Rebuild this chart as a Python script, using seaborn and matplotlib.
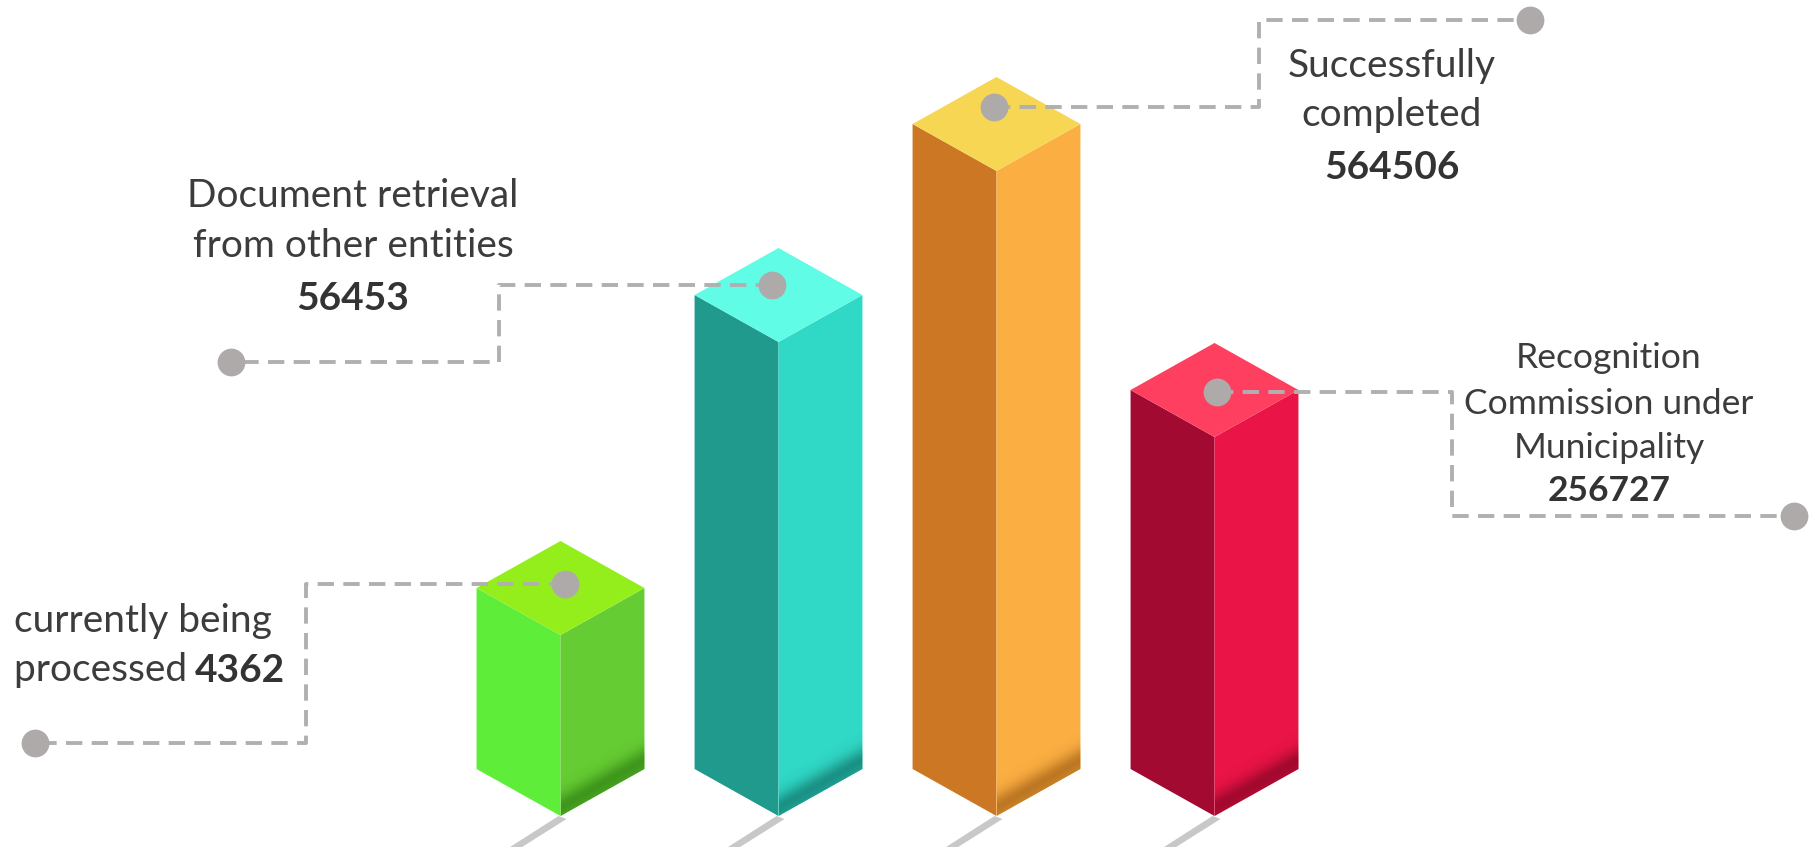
import matplotlib
matplotlib.use("Agg")
import matplotlib.pyplot as plt
import seaborn as sns
import numpy as np
from matplotlib.patches import Polygon
from matplotlib.colors import to_rgb

# data
categories = ["currently being processed", "Document retrieval from other entities",
              "Successfully completed", "Recognition Commission under Municipality"]
counts = [4362, 56453, 564506, 256727]
# the infographic does not scale bars by count; front-edge heights (px)
drawn_height = [181, 474, 645, 379]
label_lines = [["currently being", "processed "],
               ["Document retrieval", "from other entities"],
               ["Successfully", "completed"],
               ["Recognition", "Commission under", "Municipality"]]
left_colors = ["#5EEE3A", "#1F9A8C", "#CC7724", "#A20A32"]
right_colors = ["#66CC33", "#30D8C6", "#FBAE42", "#EA1446"]
top_colors = ["#94EE1C", "#60FCE6", "#F6D652", "#FF3F5F"]
shade_colors = ["#1E6A08", "#08564E", "#8A4A08", "#66001A"]

W, H = 1811, 847
STEP = 218.0      # px between bar centres
X0 = 560.5        # px of first bar centre
BASE = 816.0      # px of front bottom corner
D = 47.0          # half height of the top diamond


def to_data(px, py):
    return (px - X0) / STEP, BASE - py


sns.set_theme(style="white")
plt.rcParams['font.family'] = ['Lato', 'DejaVu Sans']

fig = plt.figure(figsize=(W / 100, H / 100), dpi=100)
ax = fig.add_axes([0, 0, 1, 1])
sns.barplot(x=categories, y=drawn_height, order=categories, width=0.77,
            color="#cccccc", ax=ax)

# turn each flat bar into an isometric prism
tops = []
for i, p in enumerate(list(ax.patches)):
    x0, w, h = p.get_x(), p.get_width(), p.get_height()
    p.set_visible(False)
    cx, x1 = x0 + w / 2, x0 + w
    # floor shadow
    ax.add_patch(Polygon([(cx - 2 / STEP, 0), (cx - 52 / STEP, -32), (cx - 40 / STEP, -32),
                          (cx + 6 / STEP, -3)], closed=True, fc="#C8C8C8", ec="none", zorder=1))
    left = Polygon([(x0, D), (cx, 0), (cx, h), (x0, h + D)], closed=True,
                   fc=left_colors[i], ec="none", zorder=2)
    right = Polygon([(cx, 0), (x1, D), (x1, h + D), (cx, h)], closed=True,
                    fc=right_colors[i], ec="none", zorder=2)
    top = Polygon([(x0, h + D), (cx, h), (x1, h + D), (cx, h + 2 * D)], closed=True,
                  fc=top_colors[i], ec="none", zorder=2)
    for poly in (left, right, top):
        ax.add_patch(poly)
    # darkening band along the bottom of the right face
    gx = np.linspace(cx, x1, 120)
    gy = np.linspace(0, D + 45, 200)
    XX, YY = np.meshgrid(gx, gy)
    dist = YY - D * (XX - cx) / (x1 - cx)
    alpha = np.where(dist < 8, 0.45 + 0.1 * dist / 8, 0.55 * np.exp(-((dist - 8) / 14) ** 2))
    img = np.zeros(dist.shape + (4,))
    img[..., :3] = to_rgb(shade_colors[i])
    img[..., 3] = np.clip(alpha, 0, 1)
    im = ax.imshow(img, extent=(cx, x1, 0, D + 45), origin="lower", aspect="auto",
                   interpolation="bilinear", zorder=3)
    im.set_clip_path(right)
    tops.append((cx, h + D))

ax.set_xlim(-X0 / STEP, (W - X0) / STEP)
ax.set_ylim(BASE - H, BASE)
ax.axis("off")

# leader lines: dot shift on the bar top, elbow x, end y and end dot x (px)
dot_shift = [(4, 4), (-7, 10), (-3, 17), (2, -2)]
elbow_x = [306, 499, 1259, 1452]
end_y = [743, 362, 20, 516]
end_x = [35, 231, 1530, 1794]
line_kw = dict(color="#B0B0B0", lw=2.8, ls=(0, (4.2, 2.4)), zorder=4, solid_capstyle="butt")
dot_kw = dict(marker="o", ms=20, color="#AEAAAA", mec="none", ls="none", zorder=5)
for i, (cx, ty) in enumerate(tops):
    sx = cx + dot_shift[i][0] / STEP
    sy = ty + dot_shift[i][1]
    ex, _ = to_data(elbow_x[i], 0)
    fx, fy = to_data(end_x[i], end_y[i])
    ax.plot([sx, ex, ex, fx], [sy, sy, fy, fy], **line_kw)
    ax.plot([sx, fx], [sy, fy], **dot_kw)

# labels
text_color = "#3C3C3C"
num_color = "#333333"
fs_main = 28

# 1: left aligned, number inline
ys = [621, 670]
for j, line in enumerate(label_lines[0]):
    x, y = to_data(14, ys[j])
    t = ax.text(x, y, line, ha="left", va="center", fontsize=fs_main, color=text_color)
ax.annotate(f"{counts[0]}", xy=(1, 0.5), xycoords=t, xytext=(-2, 0), textcoords="offset points",
            ha="left", va="center", fontsize=fs_main, fontweight="bold", color=num_color)

layout = [(1, 353, [196, 246, 298], fs_main),
          (2, 1392, [66, 115, 167], fs_main),
          (3, 1609, [358, 404, 448, 491], 25.5)]
for i, cxp, ys, fs in layout:
    for j, line in enumerate(label_lines[i]):
        x, y = to_data(cxp, ys[j])
        ax.text(x, y, line, ha="center", va="center", fontsize=fs, color=text_color)
    x, y = to_data(cxp, ys[-1])
    ax.text(x, y, f"{counts[i]}", ha="center", va="center", fontsize=fs,
            fontweight="bold", color=num_color)

fig.savefig("out.png", dpi=100, facecolor="white")
